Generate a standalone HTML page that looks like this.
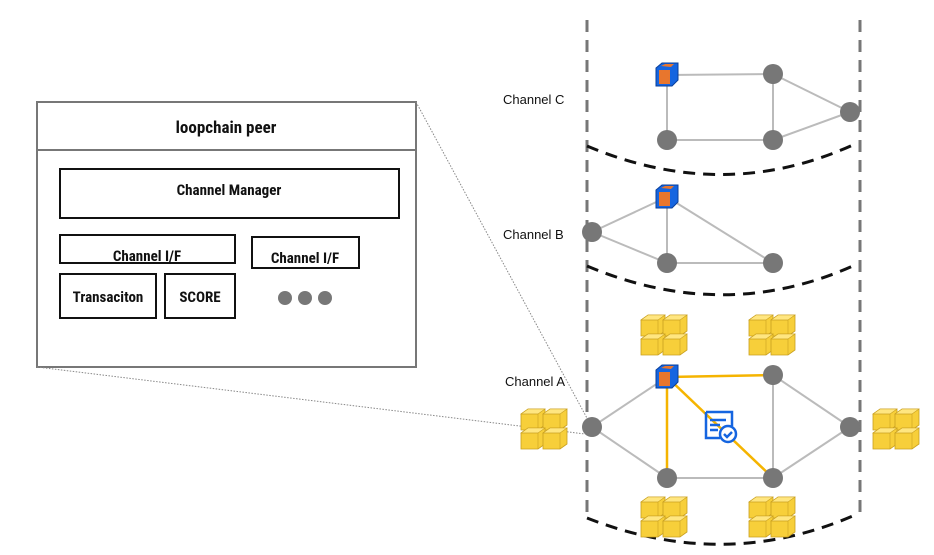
<!DOCTYPE html>
<html><head><meta charset="utf-8"><style>
body{margin:0;background:#fff;}
svg text{font-family:"Roboto Condensed","Liberation Sans Narrow","Liberation Sans",sans-serif;}
</style></head><body>
<svg width="934" height="550" viewBox="0 0 934 550" xmlns="http://www.w3.org/2000/svg">
<defs>
<g id="cube">
<polygon points="-11,-7 -5,-12 11,-12 11,5 5,11 -11,11" fill="#1565e0" stroke="#0a3f9a" stroke-width="1"/>
<rect x="-8" y="-5" width="11" height="14" fill="#e8762d"/>
<polygon points="-6,-9 -2,-11 7,-11 4,-8" fill="#e8762d"/>
</g>
<g id="blk">
<polygon points="0,5 7,0 24,0 24,16 17,21 0,21" fill="#f7cf3a" stroke="#c9a020" stroke-width="0.8"/>
<polygon points="0,5 7,0 24,0 17,5" fill="#ffe680" stroke="#c9a020" stroke-width="0.6"/>
<line x1="17" y1="5" x2="17" y2="21" stroke="#c9a020" stroke-width="0.6"/>
<line x1="0" y1="5" x2="17" y2="5" stroke="#c9a020" stroke-width="0.6"/>
</g>
<g id="blocks">
<use href="#blk" x="-24" y="-19"/><use href="#blk" x="-2" y="-19"/>
<use href="#blk" x="-24" y="0"/><use href="#blk" x="-2" y="0"/>
</g>
</defs>
<rect x="37" y="102" width="379" height="265" fill="#fff" stroke="#777" stroke-width="2"/>
<line x1="37" y1="150" x2="416" y2="150" stroke="#777" stroke-width="2"/>
<text x="226" y="133" font-size="17" font-weight="bold" text-anchor="middle" fill="#111">loopchain peer</text>
<rect x="60" y="169" width="339" height="49" fill="none" stroke="#111" stroke-width="2"/>
<text x="229" y="195" font-size="15" font-weight="bold" text-anchor="middle" fill="#111">Channel Manager</text>
<rect x="60" y="235" width="175" height="28" fill="none" stroke="#111" stroke-width="2"/>
<text x="147" y="261" font-size="15" font-weight="bold" text-anchor="middle" fill="#111">Channel I/F</text>
<rect x="252" y="237" width="107" height="31" fill="none" stroke="#111" stroke-width="2"/>
<text x="305" y="263" font-size="15" font-weight="bold" text-anchor="middle" fill="#111">Channel I/F</text>
<rect x="60" y="274" width="96" height="44" fill="none" stroke="#111" stroke-width="2"/>
<text x="108" y="302" font-size="15" font-weight="bold" text-anchor="middle" fill="#111">Transaciton</text>
<rect x="165" y="274" width="70" height="44" fill="none" stroke="#111" stroke-width="2"/>
<text x="200" y="302" font-size="15" font-weight="bold" text-anchor="middle" fill="#111">SCORE</text>
<circle cx="285" cy="298" r="7" fill="#777"/><circle cx="305" cy="298" r="7" fill="#777"/><circle cx="325" cy="298" r="7" fill="#777"/>
<line x1="416" y1="102" x2="588" y2="420" stroke="#888" stroke-width="1" stroke-dasharray="1.5,1.5"/>
<line x1="37" y1="367" x2="585" y2="434" stroke="#888" stroke-width="1" stroke-dasharray="1.5,1.5"/>
<line x1="587" y1="20" x2="587" y2="516" stroke="#777" stroke-width="3" stroke-dasharray="12,8"/>
<line x1="860" y1="20" x2="860" y2="516" stroke="#777" stroke-width="3" stroke-dasharray="12,8"/>
<g fill="none" stroke="#111" stroke-width="3" stroke-dasharray="12,8">
<path d="M587,146 Q725,204 855,144"/>
<path d="M587,266 Q725,324 855,265"/>
<path d="M587,518 Q725,572 855,515"/>
</g>
<text x="503" y="104" font-size="13" fill="#111" style="font-family:'Liberation Sans',sans-serif">Channel C</text>
<text x="503" y="239" font-size="13" fill="#111" style="font-family:'Liberation Sans',sans-serif">Channel B</text>
<text x="505" y="386" font-size="13" fill="#111" style="font-family:'Liberation Sans',sans-serif">Channel A</text>
<g stroke="#bbb" stroke-width="2">
<line x1="667" y1="75" x2="773" y2="74"/><line x1="667" y1="75" x2="667" y2="140"/>
<line x1="667" y1="140" x2="773" y2="140"/><line x1="773" y1="74" x2="773" y2="140"/>
<line x1="773" y1="74" x2="850" y2="112"/><line x1="773" y1="140" x2="850" y2="112"/>
<line x1="592" y1="232" x2="667" y2="197"/><line x1="592" y1="232" x2="667" y2="263"/>
<line x1="667" y1="197" x2="667" y2="263"/><line x1="667" y1="197" x2="773" y2="263"/>
<line x1="667" y1="263" x2="773" y2="263"/>
<line x1="592" y1="427" x2="667" y2="377"/><line x1="592" y1="427" x2="667" y2="478"/>
<line x1="667" y1="478" x2="773" y2="478"/><line x1="773" y1="375" x2="773" y2="478"/>
<line x1="773" y1="375" x2="850" y2="427"/><line x1="773" y1="478" x2="850" y2="427"/>
</g>
<g stroke="#f5b400" stroke-width="2.5">
<line x1="667" y1="377" x2="773" y2="375"/><line x1="667" y1="377" x2="667" y2="478"/>
<line x1="667" y1="377" x2="773" y2="478"/>
</g>
<g fill="#777">
<circle cx="773" cy="74" r="10"/><circle cx="667" cy="140" r="10"/><circle cx="773" cy="140" r="10"/><circle cx="850" cy="112" r="10"/>
<circle cx="592" cy="232" r="10"/><circle cx="667" cy="263" r="10"/><circle cx="773" cy="263" r="10"/>
<circle cx="773" cy="375" r="10"/><circle cx="592" cy="427" r="10"/><circle cx="667" cy="478" r="10"/><circle cx="773" cy="478" r="10"/><circle cx="850" cy="427" r="10"/>
</g>
<use href="#cube" x="667" y="75"/><use href="#cube" x="667" y="197"/><use href="#cube" x="667" y="377"/>
<g transform="translate(706,412)" fill="none" stroke="#1565e0" stroke-width="2.5">
<path d="M0,0 H26 V14"/><path d="M0,0 V26 H14"/>
<line x1="4" y1="8" x2="20" y2="8"/><line x1="4" y1="13" x2="14" y2="13"/><line x1="4" y1="18" x2="12" y2="18"/>
<circle cx="22" cy="22" r="8" fill="#fff"/><path d="M18,22 l3,3 l5,-5"/>
</g>
<use href="#blocks" x="665" y="334"/><use href="#blocks" x="773" y="334"/>
<use href="#blocks" x="545" y="428"/><use href="#blocks" x="897" y="428"/>
<use href="#blocks" x="665" y="516"/><use href="#blocks" x="773" y="516"/>
</svg>
</body></html>
